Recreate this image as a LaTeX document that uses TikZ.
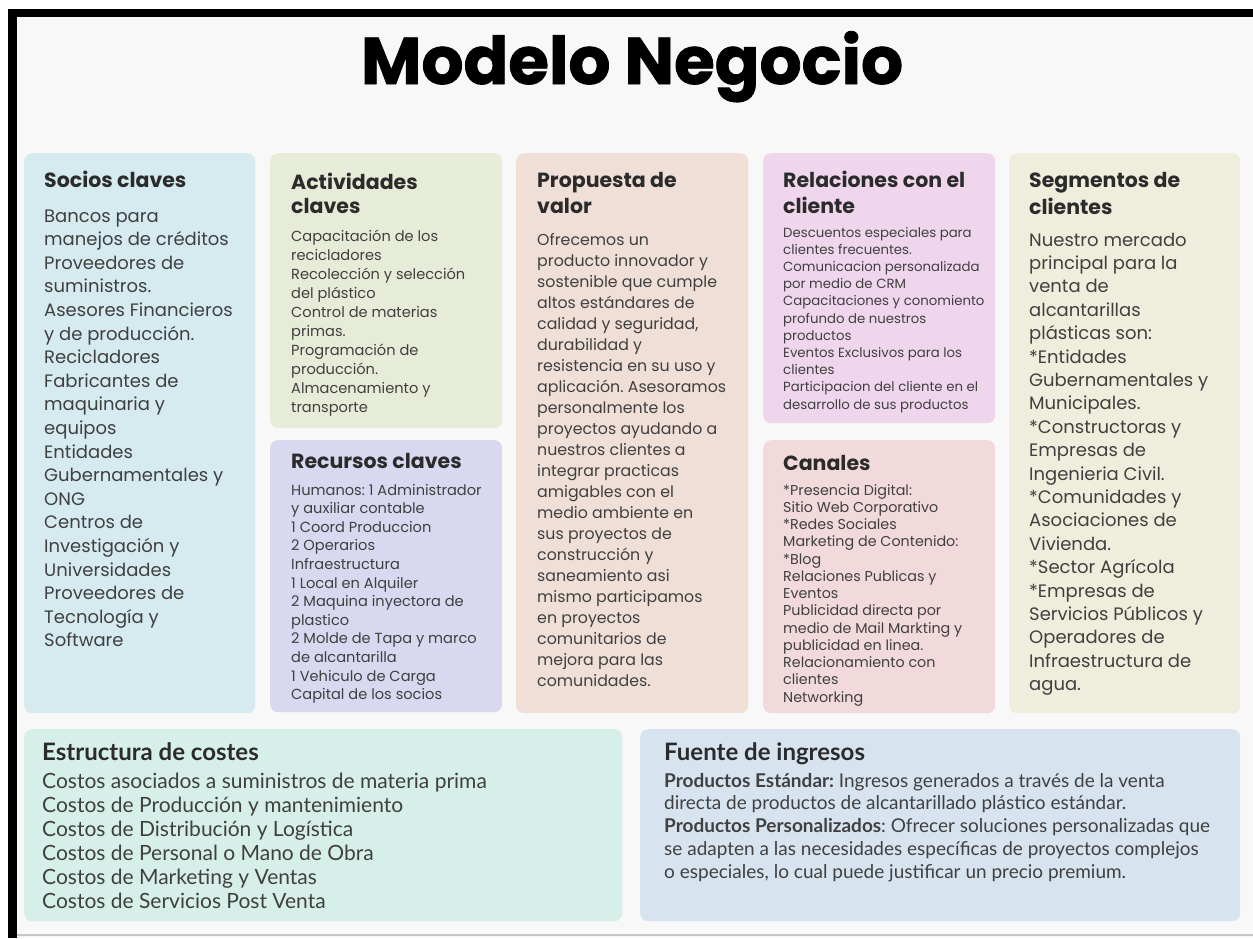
\documentclass[tikz,border=0pt]{standalone}
\usepackage{fontspec}
\setmainfont{Poppins}
\newfontfamily\latofont{Lato}
\newfontfamily\titulofont[BoldFeatures={FakeBold=1.2}]{Poppins}
\usetikzlibrary{positioning}
\frenchspacing
\definecolor{fondo}{HTML}{F8F8F8}
\definecolor{tinta}{HTML}{2B2B2B}
\definecolor{gris}{HTML}{404040}
\definecolor{cSocios}{HTML}{D5EBF0}
\definecolor{cActiv}{HTML}{E7ECD8}
\definecolor{cRecur}{HTML}{D8D8F0}
\definecolor{cProp}{HTML}{EFDFD7}
\definecolor{cRel}{HTML}{EFD6EC}
\definecolor{cCanal}{HTML}{F2D9DC}
\definecolor{cSeg}{HTML}{EFEEDC}
\definecolor{cCost}{HTML}{D6EFE9}
\definecolor{cIngr}{HTML}{D7E4EF}
\tikzset{
  tarjeta/.style={rounded corners=8pt, anchor=north west, inner sep=0pt},
  cabeza/.style 2 args={anchor=base west, inner sep=0pt, align=left, text=tinta,
    font=\bfseries\fontsize{#1}{#2}\selectfont},
  cuerpo/.style 2 args={anchor=base west, inner sep=0pt, align=left, text=gris,
    font=\fontsize{#1}{#2}\selectfont}
}
\begin{document}
\begin{tikzpicture}[x=1pt,y=-1pt]
\useasboundingbox (0,0) rectangle (1253,938);
\fill[white] (0,0) rectangle (1253,938);
\fill[fondo] (8,9) rectangle (1253,938);
\fill[black] (8,9) rectangle (1253,17);
\fill[black] (8,9) rectangle (17,938);
\draw[gray!45,line width=1.5pt] (17,935)--(1253,935);

\node[anchor=base, inner sep=0pt, text=black, font=\titulofont\bfseries\fontsize{66}{78}\selectfont] (titulo) at (632,84) {Modelo Negocio};

\node[tarjeta, fill=cSocios, minimum width=231, minimum height=560] (socios) at (24,153) {};
\node[tarjeta, fill=cActiv, minimum width=232, minimum height=275] (activ) at (270,153) {};
\node[tarjeta, fill=cRecur, minimum width=232, minimum height=272] (recur) at (270,440) {};
\node[tarjeta, fill=cProp, minimum width=232, minimum height=560] (prop) at (516,153) {};
\node[tarjeta, fill=cRel, minimum width=232, minimum height=270] (rel) at (763,153) {};
\node[tarjeta, fill=cCanal, minimum width=232, minimum height=273] (canal) at (763,440) {};
\node[tarjeta, fill=cSeg, minimum width=231, minimum height=560] (seg) at (1009,153) {};
\node[tarjeta, fill=cCost, minimum width=598, minimum height=192] (costes) at (24,729) {};
\node[tarjeta, fill=cIngr, minimum width=600, minimum height=192] (ingresos) at (640,729) {};

\node[cabeza={20.5}{25}] (sociosT) at (44,187) {Socios claves};
\node[cuerpo={18}{23.6}] (sociosB) at (44,646.8) {Bancos para\\manejos de créditos\\Proveedores de\\suministros.\\Asesores Financieros\\y de producción.\\Recicladores\\Fabricantes de\\maquinaria y\\equipos\\Entidades\\Gubernamentales y\\ONG\\Centros de\\Investigación y\\Universidades\\Proveedores de\\Tecnología y\\Software};

\node[cabeza={20.5}{24.5}] (activT) at (291,213.5) {Actividades\\claves};
\node[cuerpo={14.6}{18.9}] (activB) at (291,412) {Capacitación de los\\recicladores\\Recolección y selección\\del plástico\\Control de materias\\primas.\\Programación de\\producción.\\Almacenamiento y\\transporte};

\node[cabeza={20.5}{25}] (recurT) at (291,468) {Recursos claves};
\node[cuerpo={14.6}{18.6}] (recurB) at (291,699.6) {Humanos: 1 Administrador\\y auxiliar contable\\1 Coord Produccion\\2 Operarios\\Infraestructura\\1 Local en Alquiler\\2 Maquina inyectora de\\plastico\\2 Molde de Tapa y marco\\de alcantarilla\\1 Vehiculo de Carga\\Capital de los socios};

\node[cabeza={20.5}{26}] (propT) at (537,213) {Propuesta de\\valor};
\node[cuerpo={15.8}{21}] (propB) at (537,686) {Ofrecemos un\\producto innovador y\\sostenible que cumple\\altos estándares de\\calidad y seguridad,\\durabilidad y\\resistencia en su uso y\\aplicación. Asesoramos\\personalmente los\\proyectos ayudando a\\nuestros clientes a\\integrar practicas\\amigables con el\\medio ambiente en\\sus proyectos de\\construcción y\\saneamiento asi\\mismo participamos\\en proyectos\\comunitarios de\\mejora para las\\comunidades.};

\node[cabeza={20.5}{26}] (relT) at (783,213) {Relaciones con el\\cliente};
\node[cuerpo={13.3}{17.2}] (relB) at (783,409) {Descuentos especiales para\\clientes frecuentes.\\Comunicacion personalizada\\por medio de CRM\\Capacitaciones y conomiento\\profundo de nuestros\\productos\\Eventos Exclusivos para los\\clientes\\Participacion del cliente en el\\desarrollo de sus productos};

\node[cabeza={20.5}{25}] (canalT) at (783,470) {Canales};
\node[cuerpo={14.3}{17.25}] (canalB) at (783,702) {*Presencia Digital:\\Sitio Web Corporativo\\*Redes Sociales\\Marketing de Contenido:\\*Blog\\Relaciones Publicas y\\Eventos\\Publicidad directa por\\medio de Mail Markting y\\publicidad en linea.\\Relacionamiento con\\clientes\\Networking};

\node[cabeza={20.5}{27}] (segT) at (1029,214) {Segmentos de\\clientes};
\node[cuerpo={18}{23.4}] (segB) at (1029,690.6) {Nuestro mercado\\principal para la\\venta de\\alcantarillas\\plásticas son:\\*Entidades\\Gubernamentales y\\Municipales.\\*Constructoras y\\Empresas de\\Ingenieria Civil.\\*Comunidades y\\Asociaciones de\\Vivienda.\\*Sector Agrícola\\*Empresas de\\Servicios Públicos y\\Operadores de\\Infraestructura de\\agua.};

\node[cabeza={24}{28}, font=\latofont\bfseries\fontsize{24}{28}\selectfont] (costesT) at (42,760) {Estructura de costes};
\node[cuerpo={21}{24}, font=\latofont\fontsize{21}{24}\selectfont] (costesB) at (42,908) {Costos asociados a suministros de materia prima\\Costos de Producción y mantenimiento\\Costos de Distribución y Logística\\Costos de Personal o Mano de Obra\\Costos de Marketing y Ventas\\Costos de Servicios Post Venta};

\node[cabeza={24}{28}, font=\latofont\bfseries\fontsize{24}{28}\selectfont] (ingresosT) at (664,760) {Fuente de ingresos};
\node[cuerpo={19}{22.7}, font=\latofont\fontsize{19}{22.7}\selectfont] (ingresosB) at (664,878) {\textbf{Productos Estándar:} Ingresos generados a través de la venta\\directa de productos de alcantarillado plástico estándar.\\\textbf{Productos Personalizados}: Ofrecer soluciones personalizadas que\\se adapten a las necesidades específicas de proyectos complejos\\o especiales, lo cual puede justificar un precio premium.};
\end{tikzpicture}
\end{document}
